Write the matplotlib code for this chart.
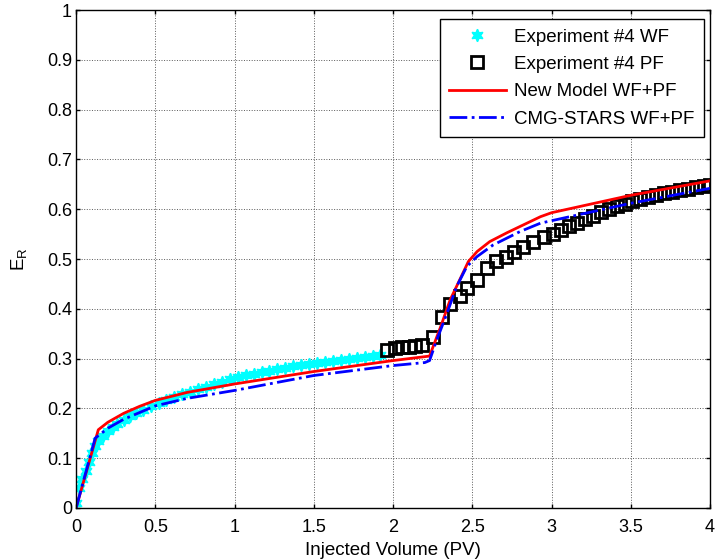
import matplotlib
matplotlib.use("Agg")
import matplotlib.pyplot as plt
from matplotlib.ticker import FuncFormatter

plt.rcParams["font.family"] = ["Liberation Sans", "DejaVu Sans"]
plt.rcParams["font.size"] = 13

# Experiment #4 WF (cyan stars)
wf_x = [0.0, 0.02, 0.04, 0.06, 0.08, 0.10, 0.12, 0.14, 0.17, 0.20, 0.23, 0.26,
        0.30, 0.34, 0.38, 0.42, 0.47, 0.52, 0.57, 0.62, 0.67, 0.72, 0.77, 0.82,
        0.87, 0.92, 0.97, 1.02, 1.07, 1.12, 1.17, 1.22, 1.27, 1.32, 1.37, 1.42,
        1.47, 1.52, 1.57, 1.62, 1.67, 1.72, 1.77, 1.82, 1.87, 1.92]
wf_y = [0.010, 0.040, 0.058, 0.075, 0.092, 0.110, 0.125, 0.135, 0.145, 0.155, 0.162, 0.168,
        0.176, 0.184, 0.191, 0.197, 0.204, 0.211, 0.217, 0.222, 0.228, 0.233, 0.238, 0.243,
        0.248, 0.253, 0.258, 0.262, 0.266, 0.270, 0.273, 0.276, 0.279, 0.282, 0.285, 0.288,
        0.290, 0.292, 0.294, 0.296, 0.298, 0.300, 0.302, 0.304, 0.306, 0.307]

# Experiment #4 PF (black squares)
pf_x = [1.96, 2.01, 2.055, 2.10, 2.14, 2.18, 2.25, 2.31, 2.36, 2.42, 2.465, 2.53,
        2.59, 2.65, 2.71, 2.76, 2.82, 2.885, 2.95, 3.01, 3.06, 3.11, 3.16, 3.21,
        3.26, 3.31, 3.36, 3.41, 3.46, 3.51, 3.56, 3.61, 3.66, 3.71, 3.76, 3.81,
        3.86, 3.91, 3.96, 4.0]
pf_y = [0.317, 0.321, 0.323, 0.324, 0.325, 0.327, 0.344, 0.383, 0.410, 0.426, 0.441, 0.458,
        0.481, 0.495, 0.505, 0.515, 0.525, 0.535, 0.544, 0.550, 0.558, 0.566, 0.573, 0.580,
        0.587, 0.594, 0.601, 0.606, 0.611, 0.616, 0.621, 0.625, 0.629, 0.632, 0.635, 0.638,
        0.641, 0.644, 0.647, 0.649]

# New Model WF+PF
model_x = [0.0, 0.14, 0.2, 0.3, 0.4, 0.5, 0.7, 1.0, 1.5, 2.0, 2.23, 2.30, 2.36, 2.42,
           2.475, 2.53, 2.61, 2.72, 2.93, 3.0, 3.5, 4.0]
model_y = [0.0, 0.157, 0.172, 0.190, 0.204, 0.216, 0.232, 0.249, 0.274, 0.296, 0.305, 0.364,
           0.418, 0.458, 0.495, 0.515, 0.535, 0.553, 0.585, 0.593, 0.628, 0.657]

# CMG-STARS WF+PF
cmg_x = [0.0, 0.12, 0.2, 0.3, 0.5, 0.7, 1.0, 1.5, 2.0, 2.2, 2.23, 2.275, 2.34, 2.40,
         2.465, 2.53, 2.63, 2.80, 2.93, 3.5, 4.0]
cmg_y = [0.0, 0.140, 0.160, 0.178, 0.205, 0.220, 0.236, 0.266, 0.286, 0.292, 0.296, 0.337,
         0.391, 0.444, 0.485, 0.505, 0.528, 0.555, 0.572, 0.612, 0.642]

x_ticks = [0, 0.5, 1, 1.5, 2, 2.5, 3, 3.5, 4]
y_ticks = [0, 0.1, 0.2, 0.3, 0.4, 0.5, 0.6, 0.7, 0.8, 0.9, 1]

fig = plt.figure(figsize=(7.18, 5.6), dpi=100)
ax = fig.add_axes([0.106, 0.093, 0.883, 0.889])

# (6, 1, 0) -> six-pointed star, like MATLAB's hexagram
ax.plot(wf_x, wf_y, linestyle="none", marker=(6, 1, 0), markersize=9,
        color="cyan", markeredgecolor="cyan", label="Experiment #4 WF")
ax.plot(pf_x, pf_y, linestyle="none", marker="s", markersize=8,
        markerfacecolor="none", markeredgecolor="black", markeredgewidth=2,
        label="Experiment #4 PF")
ax.plot(model_x, model_y, color="red", linewidth=2, label="New Model WF+PF")
ax.plot(cmg_x, cmg_y, color="blue", linewidth=2, linestyle="-.",
        label="CMG-STARS WF+PF")

ax.set_xlim(0, 4)
ax.set_ylim(0, 1)
ax.set_xticks(x_ticks)
ax.set_yticks(y_ticks)
ax.xaxis.set_major_formatter(FuncFormatter(lambda v, p: f"{v:g}"))
ax.yaxis.set_major_formatter(FuncFormatter(lambda v, p: f"{v:g}"))
ax.tick_params(direction="in", top=True, right=True, length=3, width=1,
               labelsize=13)
ax.tick_params(axis="x", pad=8)
ax.tick_params(axis="y", pad=3)
for spine in ax.spines.values():
    spine.set_linewidth(1)
ax.grid(True, linestyle=":", color="0.35", linewidth=0.7)

ax.set_xlabel("Injected Volume (PV)", fontsize=13.5, labelpad=4)
ax.set_ylabel(r"E$_\mathregular{R}$", fontsize=13.5, labelpad=12)

leg = ax.legend(loc="upper right", bbox_to_anchor=(0.99, 0.982), borderaxespad=0,
                fancybox=False, edgecolor="black", framealpha=1, fontsize=13.5,
                handlelength=3.0, handletextpad=0.45, borderpad=0.5,
                labelspacing=0.55)
leg.get_frame().set_linewidth(1)

fig.savefig("out.png", dpi=100)
